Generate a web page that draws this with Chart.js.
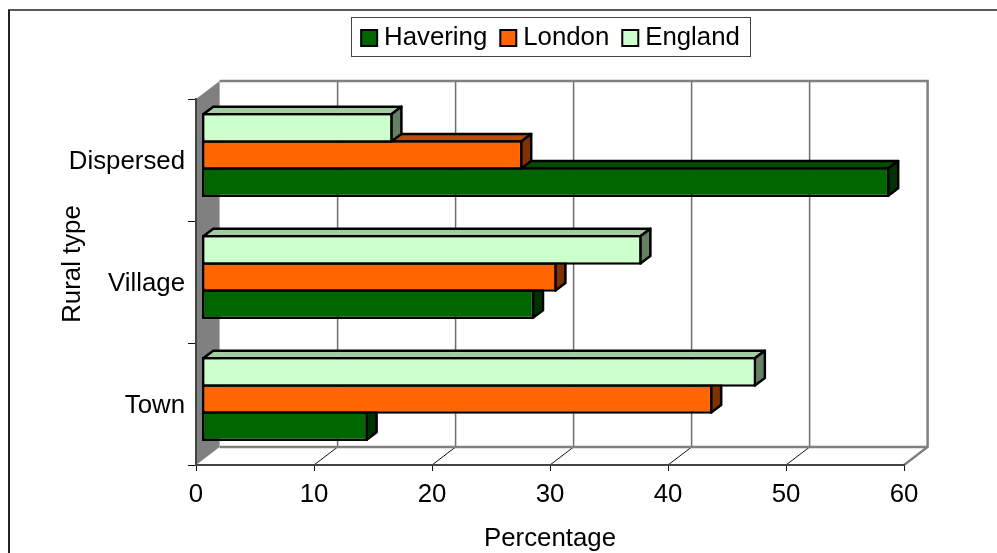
<!DOCTYPE html>
<html lang="en">
<head>
    <meta charset="UTF-8">
    <title>Rural type by area</title>
    <script src="https://cdn.jsdelivr.net/npm/chart.js"></script>
    <style>
        body { margin: 0; background: #fff; }
        canvas { display: block; }
    </style>
</head>
<body>
    <canvas id="ruralChart" width="997" height="553"></canvas>

    <script>
        const categories = ['Dispersed', 'Village', 'Town'];
        const england = [16.2, 37.3, 47];
        const london = [27.2, 30.1, 43.3];
        const havering = [58.3, 28.2, 14.1];
        const xTicks = { min: 0, max: 60, step: 10 };
        const xAxisTitle = 'Percentage';
        const yAxisTitle = 'Rural type';

        const fontFamily = '"Liberation Sans", Arial, sans-serif';
        const fontSize = 25.8;
        const font = { family: fontFamily, size: fontSize };

        // Fake 3D: wall depth behind the front plane, bar depth, bar offset from the front plane
        const wall = { dx: 23.6, dy: 18 };
        const barDepth = { dx: 10, dy: 7.5 };
        const barShift = { x: 5.5, y: -5 };
        const barLine = 2.5;
        const grey = '#808080';

        function poly(ctx, points, fill, stroke, width) {
            ctx.beginPath();
            points.forEach((p, i) => i ? ctx.lineTo(p[0], p[1]) : ctx.moveTo(p[0], p[1]));
            ctx.closePath();
            if (fill) { ctx.fillStyle = fill; ctx.fill(); }
            if (stroke) { ctx.strokeStyle = stroke; ctx.lineWidth = width; ctx.stroke(); }
        }

        function line(ctx, x1, y1, x2, y2, color, width) {
            ctx.beginPath();
            ctx.moveTo(x1, y1);
            ctx.lineTo(x2, y2);
            ctx.strokeStyle = color;
            ctx.lineWidth = width;
            ctx.stroke();
        }

        const walls3d = {
            id: 'walls3d',
            beforeLayout(chart) {
                // Leave room between the legend and the plot
                const legend = chart.legend;
                if (legend.patched) return;
                const fit = legend.fit;
                legend.fit = function () { fit.call(this); this.height = 86; };
                legend.patched = true;
            },
            beforeDraw(chart) {
                const ctx = chart.ctx;
                const { left, right, top, bottom } = chart.chartArea;
                const x = chart.scales.x;

                // Page frame, only top and left fall inside the picture
                line(ctx, 9, 553, 9, 10, '#222', 2);
                line(ctx, 8, 10, 997, 10, '#222', 1.5);

                // Left wall
                poly(ctx, [[left, top], [left + wall.dx, top - wall.dy], [left + wall.dx, bottom - wall.dy], [left, bottom]], grey);

                // Grid on the back wall, continued on the floor
                for (let v = xTicks.min + xTicks.step; v < xTicks.max; v += xTicks.step) {
                    const px = x.getPixelForValue(v);
                    line(ctx, px + wall.dx, top - wall.dy, px + wall.dx, bottom - wall.dy, '#6e6e6e', 1.5);
                    line(ctx, px, bottom, px + wall.dx, bottom - wall.dy, '#111', 1);
                }

                // Back wall outline and floor edge
                ctx.lineJoin = 'miter';
                ctx.beginPath();
                ctx.moveTo(left + wall.dx, top - wall.dy);
                ctx.lineTo(right + wall.dx, top - wall.dy);
                ctx.lineTo(right + wall.dx, bottom - wall.dy);
                ctx.lineTo(right, bottom);
                ctx.moveTo(right + wall.dx, bottom - wall.dy);
                ctx.lineTo(left + wall.dx, bottom - wall.dy);
                ctx.strokeStyle = grey;
                ctx.lineWidth = 2.5;
                ctx.stroke();
            },
            beforeDatasetDraw(chart, args) {
                const ctx = chart.ctx;
                const ds = chart.data.datasets[args.index];
                ctx.save();
                ctx.translate(barShift.x, barShift.y);
                ctx.lineJoin = 'round';
                args.meta.data.forEach(el => {
                    const t = el.y - el.height / 2 + barLine / 2;
                    const b = el.y + el.height / 2 - barLine / 2;
                    const l = el.base + barLine / 2;
                    const r = el.x - barLine / 2;
                    poly(ctx, [[l, t], [l + barDepth.dx, t - barDepth.dy], [r + barDepth.dx, t - barDepth.dy], [r, t]], ds.topColor, '#000', barLine);
                    poly(ctx, [[r, t], [r + barDepth.dx, t - barDepth.dy], [r + barDepth.dx, b - barDepth.dy], [r, b]], ds.sideColor, '#000', barLine);
                });
            },
            afterDatasetDraw(chart) {
                chart.ctx.restore();
            },
            afterDraw(chart) {
                const ctx = chart.ctx;

                // Legend frame and square swatches
                ctx.strokeStyle = '#444';
                ctx.lineWidth = 1;
                ctx.strokeRect(351.5, 17.5, 399, 39);
                chart.legend.legendHitBoxes.forEach((box, i) => {
                    const item = chart.legend.legendItems[i];
                    ctx.fillStyle = '#fff';
                    ctx.fillRect(box.left - 4, 24, 18, 28);
                    ctx.fillStyle = item.fillStyle;
                    ctx.fillRect(box.left + 1, 30, 16, 16);
                    ctx.strokeStyle = '#000';
                    ctx.lineWidth = 2;
                    ctx.strokeRect(box.left + 1, 30, 16, 16);
                });

                // Y axis title sits above the middle of the axis
                ctx.save();
                ctx.translate(73, 264);
                ctx.rotate(-Math.PI / 2);
                ctx.font = fontSize + 'px ' + fontFamily;
                ctx.fillStyle = '#000';
                ctx.textAlign = 'center';
                ctx.textBaseline = 'middle';
                ctx.fillText(yAxisTitle, 0, 0);
                ctx.restore();
            }
        };

        new Chart(document.getElementById('ruralChart'), {
            type: 'bar',
            plugins: [walls3d],
            data: {
                labels: categories,
                datasets: [
                    { label: 'England', data: england, backgroundColor: '#CCFFCC', topColor: '#A3CCA3', sideColor: '#668066' },
                    { label: 'London', data: london, backgroundColor: '#FF6600', topColor: '#BF4C00', sideColor: '#803300' },
                    { label: 'Havering', data: havering, backgroundColor: '#006600', topColor: '#004C00', sideColor: '#003300' }
                ]
            },
            options: {
                indexAxis: 'y',
                responsive: false,
                animation: false,
                events: [],
                layout: { padding: { top: 13, right: 93, left: 0, bottom: 0 } },
                datasets: {
                    bar: {
                        borderColor: '#000',
                        borderWidth: barLine,
                        borderSkipped: false,
                        categoryPercentage: 0.669,
                        barPercentage: 1.092,
                        clip: false
                    }
                },
                plugins: {
                    tooltip: { enabled: false },
                    legend: {
                        position: 'top',
                        fullSize: false,
                        reverse: true,
                        labels: { font, color: '#000', boxWidth: 11, boxHeight: 11, padding: 12 }
                    }
                },
                scales: {
                    x: {
                        min: xTicks.min,
                        max: xTicks.max,
                        afterFit(scale) { scale.height = 88; },
                        ticks: { stepSize: xTicks.step, font, color: '#000', padding: 8, maxRotation: 0 },
                        grid: { drawOnChartArea: false, tickLength: 6, tickColor: '#111', tickWidth: 1 },
                        border: { color: '#444', width: 2 },
                        title: { display: true, text: xAxisTitle, font, color: '#000', padding: { top: 0, bottom: -1.5 } }
                    },
                    y: {
                        afterFit(scale) { scale.width = 196; },
                        ticks: { font, color: '#000', padding: 3, labelOffset: 1.5 },
                        grid: { drawOnChartArea: false, tickLength: 8, tickColor: '#111', tickWidth: 1 },
                        border: { color: '#444', width: 2 }
                    }
                }
            }
        });
    </script>
</body>
</html>
